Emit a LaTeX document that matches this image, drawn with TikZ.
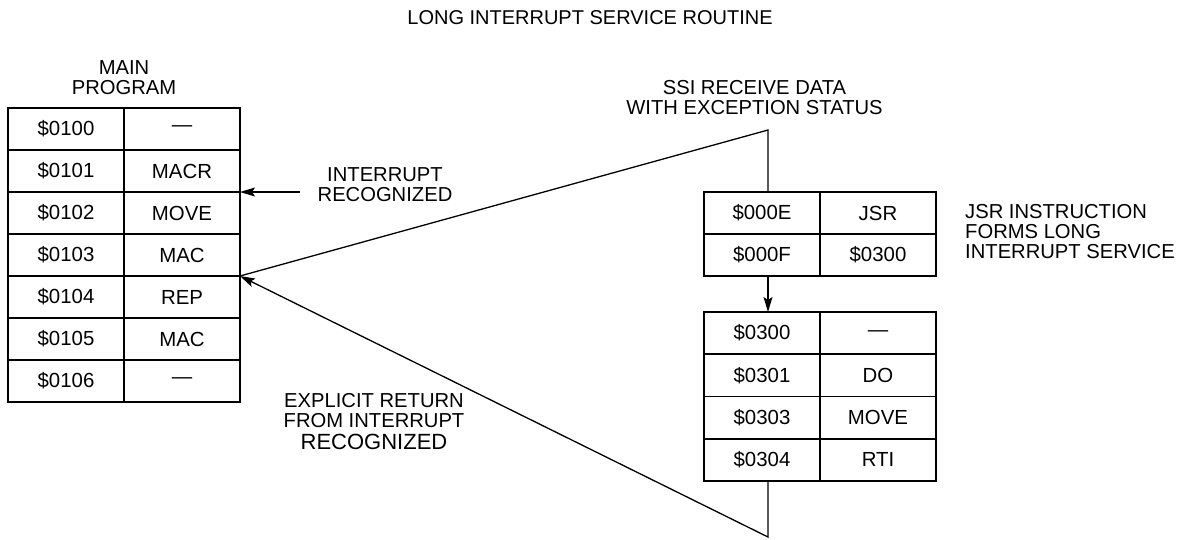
\documentclass[tikz,border=0pt]{standalone}
\usepackage{fontspec}
\setmainfont{Liberation Sans}
\usetikzlibrary{arrows.meta}
\begin{document}
\begin{tikzpicture}[x=1pt,y=-1pt,
  cell/.style={draw=black, line width=1.6pt, minimum width=116pt, minimum height=42pt, inner sep=0pt, outer sep=0pt, font=\fontsize{20.4}{20}\selectfont},
  cellb/.style={cell, minimum height=42.25pt},
  lbl/.style={inner sep=0pt, align=center, font=\fontsize{20.2}{20}\selectfont},
  conn/.style={line width=1.3pt},
  arr/.style={conn, -{Stealth[length=15pt, width=9pt, inset=3pt]}}]
\useasboundingbox (0,0) rectangle (1182,539);

% title
\node[lbl, font=\fontsize{20}{20}\selectfont] (title) at (590,18) {LONG INTERRUPT SERVICE ROUTINE};

% main program table
\node[lbl] (mainlbl) at (124,78) {MAIN\\PROGRAM};
\node[cell] (m1a) at (66,129) {\$0100};
\node[cell] (m1b) at (182,129) {—};
\node[cell] (m2a) at (66,171) {\$0101};
\node[cell] (m2b) at (182,171) {MACR};
\node[cell] (m3a) at (66,213) {\$0102};
\node[cell] (m3b) at (182,213) {MOVE};
\node[cell] (m4a) at (66,255) {\$0103};
\node[cell] (m4b) at (182,255) {MAC};
\node[cell] (m5a) at (66,297) {\$0104};
\node[cell] (m5b) at (182,297) {REP};
\node[cell] (m6a) at (66,339) {\$0105};
\node[cell] (m6b) at (182,339) {MAC};
\node[cell] (m7a) at (66,381) {\$0106};
\node[cell] (m7b) at (182,381) {—};

% interrupt recognized
\node[lbl] (intlbl) at (385,184.5) {INTERRUPT\\RECOGNIZED};
\coordinate[xshift=60pt] (intstart) at (m2b.south east);
\draw[arr] (intstart) -- (m2b.south east);

% SSI label
\node[lbl] (ssilbl) at (754.5,98) {SSI RECEIVE DATA\\WITH EXCEPTION STATUS};
\coordinate (top) at (768,130);
\coordinate (bot) at (768,537);

% JSR table
\node[cell] (j1a) at (762,213) {\$000E};
\node[cell] (j1b) at (878,213) {JSR};
\node[cell] (j2a) at (762,255) {\$000F};
\node[cell] (j2b) at (878,255) {\$0300};
\node[lbl, align=left, anchor=west] (jsrlbl) at (965,231.7) {JSR INSTRUCTION\\FORMS LONG\\INTERRUPT SERVICE};

% service routine table
\node[cellb] (s1a) at (762,333.1) {\$0300};
\node[cellb] (s1b) at (878,333.1) {—};
\node[cellb] (s2a) at (762,375.4) {\$0301};
\node[cellb] (s2b) at (878,375.4) {DO};
\node[cellb] (s3a) at (762,417.6) {\$0303};
\node[cellb] (s3b) at (878,417.6) {MOVE};
\node[cellb] (s4a) at (762,459.9) {\$0304};
\node[cellb] (s4b) at (878,459.9) {RTI};

% explicit return label
\node[lbl] (retlbl) at (374,421.5) {EXPLICIT RETURN\\FROM INTERRUPT\\[1.3pt]{\fontsize{22}{22}\selectfont RECOGNIZED}};

% connectors
\draw[conn] (m4b.south east) -- (top) -- (top |- j1a.north);
\draw[arr] (top |- j2a.south) -- (top |- s1a.north);
\draw[arr] (top |- s4a.south) -- (bot) -- (m4b.south east);
\end{tikzpicture}
\end{document}
